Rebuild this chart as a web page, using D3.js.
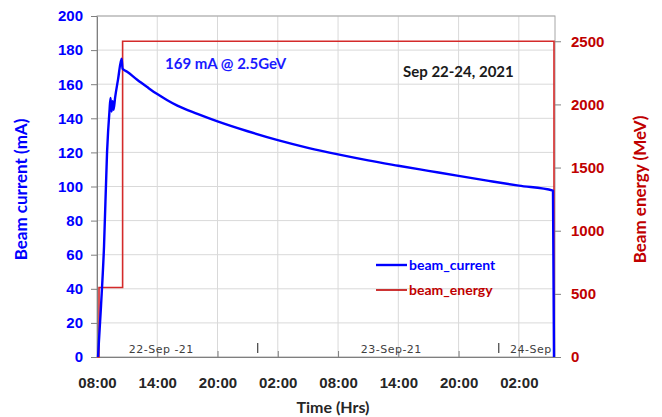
<!DOCTYPE html>
<html lang="en">
<head>
    <meta charset="UTF-8">
    <title>Beam current and energy, Sep 22-24 2021</title>
    <style>
        body {
            margin: 0;
            background: #fff;
            font-family: Lato, 'Open Sans', sans-serif;
        }
        .grid line { stroke: #d9d9d9; stroke-width: 1; }
        .axis path, .axis line { stroke: #7f7f7f; }
        .axis text { font-weight: bold; font-size: 15px; }
    </style>
    <script src="https://d3js.org/d3.v7.min.js"></script>
</head>
<body>
<div id="chart"></div>
<script>
    // hours since 22-Sep-21 08:00
    const currentData = [
        [0.1, 0], [0.4, 30], [0.7, 65], [1.0, 120], [1.25, 145], [1.35, 152],
        [1.45, 144], [1.55, 150], [1.65, 145], [1.8, 152], [2.1, 163], [2.45, 175],
        [2.55, 169], [3, 167.3], [4, 162.6], [5, 158.3], [6, 154.2], [7, 150.6],
        [8, 147.4], [10, 142.6], [12, 138.2], [15, 132.4], [18, 127.2], [21, 122.7],
        [24, 118.8], [27, 115.3], [30, 112.2], [33, 109.2], [36, 106.2], [39, 103.3],
        [42, 100.5], [45.4, 97.6], [45.5, 0]
    ];
    const energyData = [
        [0, 0], [0.2, 0], [0.2, 550], [2.55, 550], [2.55, 2500], [45.5, 2500], [45.5, 0]
    ];
    const xTickHours = [0, 6, 12, 18, 24, 30, 36, 42];
    const xTickLabels = ["08:00", "14:00", "20:00", "02:00", "08:00", "14:00", "20:00", "02:00"];
    const dayLabels = [["22-Sep -21", 6.4], ["23-Sep-21", 29.3], ["24-Sep", 43.2]];
    const dayBreaks = [16, 40];
    const currentTicks = [0, 20, 40, 60, 80, 100, 120, 140, 160, 180, 200];
    const energyTicks = [0, 500, 1000, 1500, 2000, 2500];

    const width = 662, height = 417;
    const margin = { top: 16, right: 107, bottom: 60, left: 97 };
    const iw = width - margin.left - margin.right;
    const ih = height - margin.top - margin.bottom;

    const blue = "#0000ff", red = "#c00000";

    const svg = d3.select("#chart").append("svg")
        .attr("width", width)
        .attr("height", height);

    const g = svg.append("g").attr("transform", `translate(${margin.left},${margin.top})`);

    const x = d3.scaleLinear().domain([0, 45.6]).range([0, iw]);
    const y = d3.scaleLinear().domain([0, 200]).range([ih, 0]);
    const y2 = d3.scaleLinear().domain([0, 2700]).range([ih, 0]);

    // grid
    g.append("g").attr("class", "grid")
        .selectAll("line").data(currentTicks.slice(1)).join("line")
        .attr("x1", 0).attr("x2", iw)
        .attr("y1", d => y(d)).attr("y2", d => y(d));
    g.append("g").attr("class", "grid")
        .selectAll("line").data(xTickHours.slice(1)).join("line")
        .attr("x1", d => x(d)).attr("x2", d => x(d))
        .attr("y1", 0).attr("y2", ih);

    // frame
    g.append("rect")
        .attr("width", iw).attr("height", ih)
        .attr("fill", "none").attr("stroke", "#a6a6a6");

    // axes
    const xAxis = g.append("g").attr("class", "axis")
        .attr("transform", `translate(0,${ih})`)
        .call(d3.axisBottom(x).tickValues(xTickHours)
            .tickFormat((d, i) => xTickLabels[i]).tickSize(-6).tickSizeOuter(0).tickPadding(20));
    xAxis.selectAll("text").attr("fill", "#262626");

    const yAxis = g.append("g").attr("class", "axis")
        .call(d3.axisLeft(y).tickValues(currentTicks).tickSize(6).tickSizeOuter(0).tickPadding(8));
    yAxis.selectAll("text").attr("fill", blue);

    const y2Axis = g.append("g").attr("class", "axis")
        .attr("transform", `translate(${iw},0)`)
        .call(d3.axisRight(y2).tickValues(energyTicks).tickFormat(d3.format("d"))
            .tickSize(6).tickSizeOuter(0).tickPadding(10));
    y2Axis.select(".domain").remove();
    y2Axis.selectAll("text").attr("fill", red);

    // date labels inside plot
    g.selectAll(".day").data(dayLabels).join("text")
        .attr("x", d => x(d[1])).attr("y", ih - 4)
        .attr("text-anchor", "middle")
        .attr("font-size", 11).attr("fill", "#404040")
        .attr("font-family", "'DejaVu Sans', sans-serif")
        .attr("letter-spacing", 0.5)
        .text(d => d[0]);
    g.selectAll(".daybreak").data(dayBreaks).join("line")
        .attr("x1", d => x(d)).attr("x2", d => x(d))
        .attr("y1", ih - 14).attr("y2", ih - 4)
        .attr("stroke", "#404040").attr("stroke-width", 1.2);

    // series
    g.append("path")
        .datum(energyData)
        .attr("fill", "none").attr("stroke", "#d42a2a").attr("stroke-width", 1.6)
        .attr("d", d3.line().x(d => x(d[0])).y(d => y2(d[1])));
    g.append("path")
        .datum(currentData)
        .attr("fill", "none").attr("stroke", blue).attr("stroke-width", 2.4)
        .attr("stroke-linejoin", "round")
        .attr("d", d3.line().curve(d3.curveMonotoneX).x(d => x(d[0])).y(d => y(d[1])));

    // annotations
    g.append("text")
        .attr("x", 68).attr("y", 53)
        .attr("fill", "#1a1aff").attr("font-size", 15).attr("font-weight", "bold")
        .text("169 mA @ 2.5GeV");
    g.append("text")
        .attr("x", 306).attr("y", 61)
        .attr("fill", "#1a1a1a").attr("font-size", 15).attr("font-weight", "bold")
        .text("Sep 22-24, 2021");

    // legend
    const legend = g.append("g").attr("transform", "translate(279,249)");
    [["beam_current", blue], ["beam_energy", red]].forEach((d, i) => {
        legend.append("line")
            .attr("x1", 0).attr("x2", 31)
            .attr("y1", i * 25).attr("y2", i * 25)
            .attr("stroke", d[1]).attr("stroke-width", i ? 1.6 : 2.4);
        legend.append("text")
            .attr("x", 33).attr("y", i * 25 + 5)
            .attr("fill", d[1]).attr("font-size", 14).attr("font-weight", "bold")
            .text(d[0]);
    });

    // axis titles
    svg.append("text")
        .attr("transform", `translate(27,${margin.top + ih / 2 + 3}) rotate(-90)`)
        .attr("text-anchor", "middle")
        .attr("fill", blue).attr("font-size", 17).attr("font-weight", "bold")
        .text("Beam current (mA)");
    svg.append("text")
        .attr("transform", `translate(646,${margin.top + ih / 2 + 3}) rotate(-90)`)
        .attr("text-anchor", "middle")
        .attr("fill", red).attr("font-size", 17).attr("font-weight", "bold")
        .text("Beam energy (MeV)");
    svg.append("text")
        .attr("x", margin.left + 236).attr("y", 413)
        .attr("text-anchor", "middle")
        .attr("fill", "#262626").attr("font-size", 16).attr("font-weight", "bold")
        .text("Time (Hrs)");
</script>
</body>
</html>
